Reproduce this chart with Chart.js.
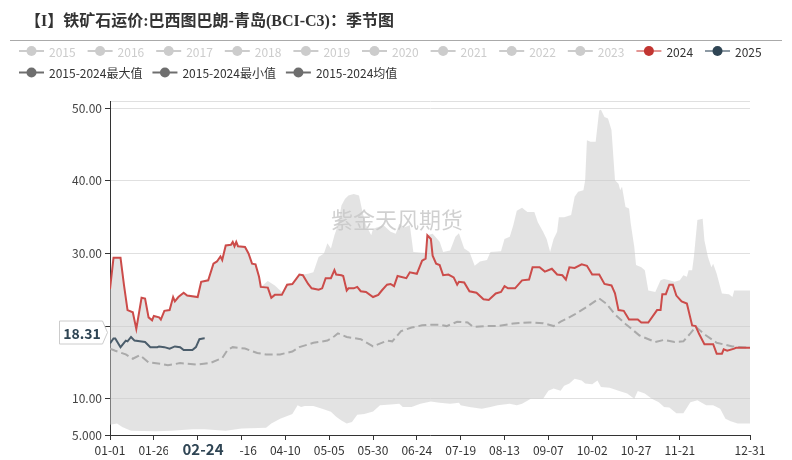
<!DOCTYPE html>
<html>
<head>
<meta charset="utf-8">
<script src="https://cdn.jsdelivr.net/npm/chart.js@4.4.1/dist/chart.umd.min.js"></script>
<style>
  html, body { margin: 0; padding: 0; background: #fff; }
  #wrap { width: 792px; height: 460px; }
</style>
</head>
<body>
<div id="wrap"><canvas id="seasonChart" width="792" height="460"></canvas></div>
<script>
var titleText = '【I】铁矿石运价:巴西图巴朗-青岛(BCI-C3)：季节图';
var watermarkText = '紫金天风期货';

// legend
var legendYears = ['2015', '2016', '2017', '2018', '2019', '2020', '2021', '2022', '2023', '2024', '2025'];
var legendStats = ['2015-2024最大值', '2015-2024最小值', '2015-2024均值'];

// x axis: day of year (2024 calendar, 366 days)
var xTickDays = [0, 25, 50, 75, 100, 125, 150, 175, 200, 225, 250, 275, 300, 325, 365];
var xTickLabels = ['01-01', '01-26', '02-20', '03-16', '04-10', '05-05', '05-30', '06-24', '07-19', '08-13', '09-07', '10-02', '10-27', '11-21', '12-31'];
var yTicks = [5, 10, 20, 30, 40, 50, 51];

var days2024 = [0,2,6,8,10,13,15,18,20,22,24,25,28,29,31,34,36,37,39,42,44,50,52,56,59,61,63,64,66,69,70,71,72,73,77,79,81,83,85,86,90,92,94,98,101,104,108,110,113,115,119,121,123,126,128,129,132,133,135,136,139,141,143,146,150,153,155,158,160,162,164,169,171,175,178,180,181,183,184,186,188,190,193,196,198,199,202,205,209,213,216,220,223,225,227,231,235,239,241,245,248,252,255,258,260,262,265,269,272,275,279,282,286,288,290,293,296,301,303,307,312,314,315,317,319,321,323,326,329,332,334,336,339,344,346,349,350,352,356,357,365];
var vals2024 = [25.1,29.4,29.4,25.6,22.2,21.9,19.6,23.9,23.8,21.2,20.8,21.4,21.2,20.9,22.1,22.2,24.0,23.4,24.0,24.6,24.2,24.0,26.1,26.3,28.6,28.9,29.6,29.1,31.1,31.2,31.6,31.0,31.6,31.0,30.9,30.0,28.6,28.5,26.8,25.4,25.3,23.9,24.3,24.3,25.7,25.8,27.1,27.0,25.8,25.2,25.0,25.2,26.6,26.6,27.7,27.1,27.0,26.9,24.9,25.2,25.2,25.4,24.8,24.7,24.0,24.3,24.9,25.7,25.8,25.5,26.9,26.6,27.4,27.2,29.0,29.3,32.5,32.0,29.7,28.6,28.4,27.0,27.1,26.7,25.7,26.1,26.0,24.8,24.6,23.7,23.6,24.5,24.7,25.5,25.2,25.2,26.3,26.4,28.1,28.1,27.5,27.9,27.1,27.0,26.4,28.1,28.0,28.5,28.3,27.1,27.1,25.8,25.6,24.5,22.2,22.1,20.9,20.9,20.5,20.5,22.2,22.2,24.4,24.4,25.7,25.7,24.2,23.4,23.1,20.1,20.0,18.9,17.5,17.5,16.2,16.2,16.8,16.6,16.9,17.0,17.0];

var days2025 = [0,2,3,6,9,10,12,14,17,20,23,27,28,31,34,37,40,42,47,49,51,53,54];
var vals2025 = [17.6,18.3,18.3,17.1,18.0,17.9,18.5,18.0,17.9,17.8,17.1,17.1,17.2,17.1,16.9,17.2,17.1,16.7,16.7,17.1,18.2,18.3,18.31];

var daysAvg = [0,3,9,13,17,22,29,33,40,49,57,64,67,70,77,84,89,97,104,108,116,124,128,130,135,139,143,150,158,161,166,172,178,182,188,192,198,204,207,215,221,230,239,247,253,257,265,271,279,283,288,294,302,311,316,322,327,331,334,340,346,355,365];
var valsAvg = [16.9,16.6,16.1,15.5,16.0,15.0,14.8,14.6,14.9,14.7,14.9,15.6,16.7,17.1,16.9,16.3,16.1,16.1,16.5,17.1,17.7,18.0,18.6,19.0,18.5,18.35,18.2,17.2,18.0,17.9,19.3,19.8,20.1,20.2,20.2,20.0,20.6,20.5,19.9,20.0,20.0,20.35,20.5,20.4,20.0,20.6,21.6,22.5,23.8,23.1,21.6,20.3,18.7,17.8,18.1,17.8,17.9,19.0,19.9,18.7,17.7,17.2,17.0];

var daysMax = [0,2,6,8,10,13,15,18,20,22,24,25,28,29,31,34,36,37,39,42,44,50,52,56,59,61,63,64,66,69,70,71,72,73,77,79,81,83,85,86,90,94,98,101,104,108,110,113,116,119,122,124,126,128,130,132,134,136,139,142,144,146,149,150,156,160,163,165,168,171,173,178,180,181,184,188,190,194,197,199,202,205,208,211,215,217,223,225,228,230,232,235,238,242,244,247,249,251,253,255,256,259,263,265,267,270,271,272,274,277,279,280,282,284,286,288,290,291,292,294,296,297,299,300,303,305,307,311,314,316,319,322,325,327,329,330,332,333,335,338,339,341,343,344,346,349,353,355,356,365];
var valsMax = [25.1,29.4,29.4,25.6,22.2,21.9,19.6,23.9,23.8,21.2,20.8,21.4,21.2,20.9,22.1,22.2,24.0,23.4,24.0,24.6,24.2,24.0,26.1,26.3,28.6,28.9,29.6,29.1,31.1,31.2,31.6,31.0,31.6,31.0,30.9,30.0,28.6,28.5,26.8,25.4,26.2,25.6,24.7,25.7,25.8,27.1,27.1,27.2,27.4,29.5,30.0,31.4,30.7,32.5,33.9,36.6,37.5,38.0,38.2,38.0,35.7,33.9,32.5,33.4,33.9,33.0,32.7,34.1,33.6,33.9,30.2,30.1,30.1,32.5,32.7,31.6,30.2,30.4,32.3,32.8,30.7,30.2,28.3,28.9,29.1,30.2,30.3,32.0,32.3,33.9,35.9,36.3,35.7,35.7,34.3,33.0,32.0,30.2,32.0,33.0,35.0,35.0,35.3,37.8,38.5,38.7,40.1,45.6,45.4,45.4,49.7,49.8,48.8,48.6,47.0,40.1,39.6,38.7,39.2,36.4,36.2,34.1,30.9,28.4,28.1,27.7,24.9,24.7,26.3,26.5,26.3,26.1,26.3,27.0,26.8,27.7,27.7,29.5,34.6,34.8,31.8,29.5,28.1,28.6,27.2,24.5,24.4,24.0,24.9,24.9];

var daysMin = [0,4,7,12,26,35,47,54,66,75,89,92,97,100,104,107,109,111,116,121,126,129,132,135,138,141,145,150,154,160,165,167,172,177,183,188,194,199,200,205,212,217,221,228,232,235,240,247,250,253,257,259,262,265,269,271,275,278,280,285,290,295,299,301,305,309,313,316,319,323,327,331,335,340,344,348,351,354,358,365];
var valsMin = [6.4,6.6,6.1,5.6,5.5,5.6,5.8,5.8,5.6,5.9,6.0,6.6,7.25,7.5,7.9,9.1,8.85,9.0,9.0,8.6,8.2,7.5,7.0,6.6,6.8,7.8,7.9,8.25,9.1,9.2,9.3,8.85,8.85,9.3,9.6,9.45,9.3,9.45,9.1,8.85,8.6,8.85,9.1,9.3,9.1,9.3,10.0,10.0,11.1,11.4,11.1,11.8,12.1,12.75,12.5,12.1,12.0,12.5,11.6,11.5,11.1,10.7,10.0,11.05,10.7,10.0,9.5,8.85,8.8,8.0,8.0,9.5,9.8,9.1,9.1,8.6,7.25,6.9,6.6,6.6];

var lastLabelValue = '18.31';
var lastLabelDate = '02-24';

function pts(days, vals) {
  return days.map(function(d, i) { return { x: d, y: vals[i] }; });
}

var FONT = '"Microsoft YaHei", "Noto Sans CJK SC", sans-serif';

// title, legend, watermark and the axis pointer labels
var decoPlugin = {
  id: 'deco',
  beforeDatasetsDraw: function(chart) {
    var ctx = chart.ctx;
    ctx.save();
    ctx.font = '22px "Noto Sans CJK SC", sans-serif';
    ctx.fillStyle = 'rgba(120,120,120,0.35)';
    ctx.textAlign = 'center';
    ctx.textBaseline = 'middle';
    ctx.fillText(watermarkText, 397, 220);
    ctx.restore();
  },
  afterDraw: function(chart) {
    var ctx = chart.ctx;
    ctx.save();

    ctx.font = 'bold 16px "Liberation Serif", "Noto Sans CJK SC", serif';
    ctx.fillStyle = '#333';
    ctx.textBaseline = 'middle';
    ctx.textAlign = 'left';
    ctx.fillText(titleText, 25, 22);

    ctx.strokeStyle = '#aaa';
    ctx.lineWidth = 1;
    ctx.beginPath(); ctx.moveTo(10, 40.5); ctx.lineTo(782, 40.5); ctx.stroke();

    function icon(x, y, lineCol, dotCol) {
      ctx.strokeStyle = lineCol;
      ctx.lineWidth = 2;
      ctx.beginPath(); ctx.moveTo(x, y); ctx.lineTo(x + 25, y); ctx.stroke();
      ctx.fillStyle = dotCol;
      ctx.beginPath(); ctx.arc(x + 12.5, y, 5, 0, Math.PI * 2); ctx.fill();
    }
    ctx.font = '12px ' + FONT;
    legendYears.forEach(function(name, i) {
      var x = 19 + i * 68.6, y = 51;
      var lc = '#ccc', dc = '#ccc', tc = '#ccc';
      if (name === '2024') { lc = '#e39694'; dc = '#c23531'; tc = '#333'; }
      if (name === '2025') { lc = '#8d9aa4'; dc = '#2f4554'; tc = '#333'; }
      icon(x, y, lc, dc);
      ctx.fillStyle = tc;
      ctx.fillText(name, x + 30, y + 1);
    });
    var x2 = 19;
    legendStats.forEach(function(name) {
      icon(x2, 72.5, '#6e6e6e', '#6e6e6e');
      ctx.fillStyle = '#333';
      ctx.fillText(name, x2 + 30, 73.5);
      x2 += 30 + ctx.measureText(name).width + 10;
    });

    // y axis pointer label
    var yc = 332.5;
    ctx.beginPath();
    ctx.moveTo(59.5, yc - 11.5);
    ctx.lineTo(102.5, yc - 11.5);
    ctx.lineTo(107.5, yc);
    ctx.lineTo(102.5, yc + 11.5);
    ctx.lineTo(59.5, yc + 11.5);
    ctx.closePath();
    ctx.fillStyle = '#fff';
    ctx.fill();
    ctx.strokeStyle = '#ccc';
    ctx.lineWidth = 1;
    ctx.stroke();
    ctx.font = 'bold 14px ' + FONT;
    ctx.fillStyle = '#2f4554';
    ctx.textAlign = 'center';
    ctx.fillText(lastLabelValue, 82, yc + 1);

    // x axis pointer label
    ctx.fillStyle = '#fff';
    ctx.fillRect(168, 441, 71, 19);
    ctx.font = 'bold 15px ' + FONT;
    ctx.fillStyle = '#2f4554';
    ctx.fillText(lastLabelDate, 203, 449);
    ctx.restore();
  }
};

new Chart(document.getElementById('seasonChart'), {
  type: 'line',
  data: {
    datasets: [
      { label: '2025', data: pts(days2025, vals2025), borderColor: '#4b5d6b', borderWidth: 2, pointRadius: 0, tension: 0, fill: false },
      { label: '2024', data: pts(days2024, vals2024), borderColor: '#cc4c4a', borderWidth: 2, pointRadius: 0, tension: 0, fill: false },
      { label: '2015-2024均值', data: pts(daysAvg, valsAvg), borderColor: '#aaaaaa', borderWidth: 2, borderDash: [8, 4], pointRadius: 0, tension: 0, fill: false },
      { label: '2015-2024最大值', data: pts(daysMax, valsMax), borderWidth: 0, borderColor: 'rgba(0,0,0,0)', backgroundColor: 'rgba(200,200,200,0.5)', pointRadius: 0, tension: 0, fill: 4 },
      { label: '2015-2024最小值', data: pts(daysMin, valsMin), borderWidth: 0, borderColor: 'rgba(0,0,0,0)', pointRadius: 0, tension: 0, fill: false }
    ]
  },
  options: {
    responsive: false,
    animation: false,
    devicePixelRatio: 1,
    layout: { padding: { top: 101, right: 42, bottom: 0, left: 0 } },
    plugins: { legend: { display: false }, tooltip: { enabled: false } },
    scales: {
      x: {
        type: 'linear', min: 0, max: 365,
        afterBuildTicks: function(s) { s.ticks = xTickDays.map(function(v) { return { value: v }; }); },
        afterFit: function(s) { s.height = 25; },
        ticks: {
          autoSkip: false, maxRotation: 0, padding: 3, color: '#333',
          font: { size: 12, family: FONT },
          callback: function(v) { var i = xTickDays.indexOf(v); return i < 0 ? '' : xTickLabels[i]; }
        },
        grid: { drawOnChartArea: false, tickLength: 5, color: '#333', tickColor: '#333' },
        border: { color: '#333', width: 1 }
      },
      y: {
        type: 'linear', min: 5, max: 51,
        afterBuildTicks: function(s) { s.ticks = yTicks.map(function(v) { return { value: v }; }); },
        afterFit: function(s) { s.width = 110; },
        ticks: {
          padding: 3, color: '#444',
          font: { size: 12, family: FONT },
          callback: function(v) { if (v === 51) return ''; return v === 5 ? '5.000' : v.toFixed(2); }
        },
        grid: {
          color: '#e0e0e0', tickLength: 5,
          tickColor: function(c) { return c.tick && c.tick.value === 51 ? 'rgba(0,0,0,0)' : '#333'; }
        },
        border: { color: '#333', width: 1 }
      }
    }
  },
  plugins: [decoPlugin]
});
</script>
</body>
</html>
